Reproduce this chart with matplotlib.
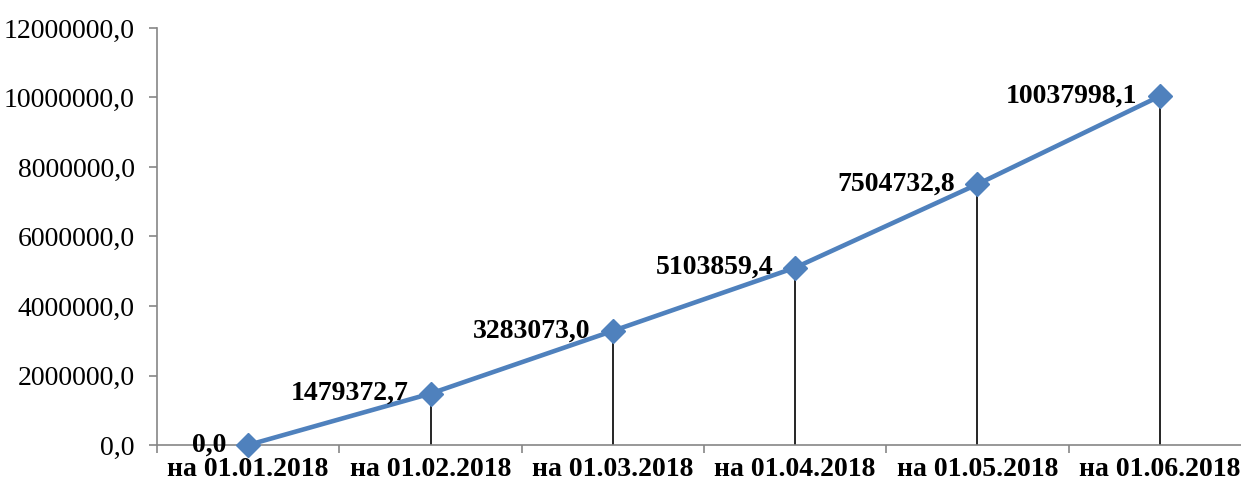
import matplotlib
matplotlib.use("Agg")
import matplotlib.pyplot as plt
from matplotlib.ticker import FuncFormatter

# data
dates = ["на 01.01.2018", "на 01.02.2018", "на 01.03.2018",
         "на 01.04.2018", "на 01.05.2018", "на 01.06.2018"]
values = [0.0, 1479372.7, 3283073.0, 5103859.4, 7504732.8, 10037998.1]
y_ticks = [0, 2000000, 4000000, 6000000, 8000000, 10000000, 12000000]

plt.rcParams['font.family'] = ['Liberation Serif', 'DejaVu Serif']

fig = plt.figure(figsize=(12.41, 4.88), dpi=100)
ax = fig.add_axes([157 / 1241, 43 / 488, 1094 / 1241, 417 / 488])

x = list(range(len(dates)))

# drop lines from points to the axis
ax.vlines(x, 0, values, colors='black', linewidth=1.2, zorder=2)

ax.plot(x, values, color='#4F81BD', linewidth=3.3, marker='D',
        markersize=12, markerfacecolor='#4F81BD', markeredgecolor='#4F81BD',
        zorder=3, clip_on=False)

def fmt(v):
    return f"{v:.1f}".replace('.', ',')

for xi, v in zip(x, values):
    ax.annotate(fmt(v), (xi, v), xytext=(-16, 0), textcoords='offset points',
                ha='right', va='center', fontsize=20, fontweight='bold',
                zorder=4)

ax.set_xlim(-0.5, len(dates) - 0.5)
ax.set_ylim(0, 12000000)
ax.set_yticks(y_ticks)
ax.yaxis.set_major_formatter(FuncFormatter(lambda v, p: fmt(v)))

# category labels between boundary ticks
ax.set_xticks([i + 0.5 for i in range(-1, len(dates))])
ax.set_xticklabels([])
ax.set_xticks(x, minor=True)
ax.set_xticklabels(dates, minor=True, fontsize=20, fontweight='bold')
ax.tick_params(axis='x', which='minor', length=0, pad=9)
ax.tick_params(axis='x', which='major', length=6, color='#868686', width=1.2)
ax.tick_params(axis='y', length=6, color='#868686', width=1.2, labelsize=20, pad=10)

for s in ['top', 'right']:
    ax.spines[s].set_visible(False)
for s in ['left', 'bottom']:
    ax.spines[s].set_color('#868686')
    ax.spines[s].set_linewidth(1.2)

fig.savefig('out.png', dpi=100)
